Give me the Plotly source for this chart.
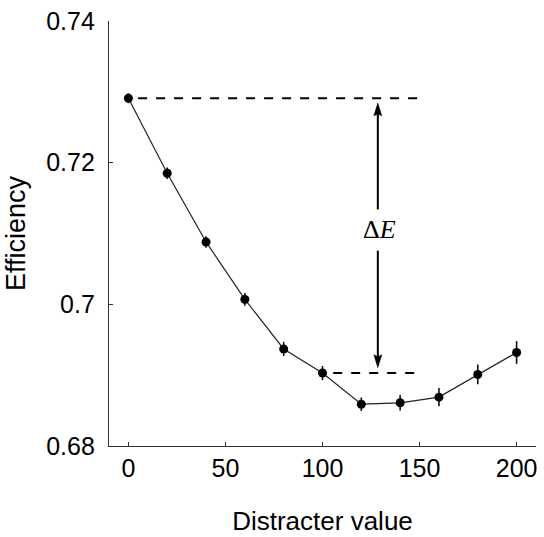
import plotly.graph_objects as go

# ---- data ----
distracter = [0, 20, 40, 60, 80, 100, 120, 140, 160, 180, 200]
efficiency = [0.7291, 0.7185, 0.7088, 0.7007, 0.6937, 0.6903,
              0.6859, 0.6861, 0.6869, 0.6901, 0.6932]
err = [0.0007, 0.0008, 0.0008, 0.0009, 0.0010, 0.0010,
       0.00095, 0.0011, 0.0013, 0.0014, 0.0016]
x_ticks = [0, 50, 100, 150, 200]
y_ticks = [0.68, 0.70, 0.72, 0.74]
y_tick_labels = ["0.68", "0.7", "0.72", "0.74"]

# annotation positions (data units)
top_span = [5, 151]
bottom_span = [105.5, 148.5]
arrow_x = 128.5
arrow_top_tip, arrow_top_tail = 0.72842, 0.7134
arrow_bot_tip, arrow_bot_tail = 0.69106, 0.70758
label_y = 0.7105

W, H = 544, 537
M = dict(l=109, r=7, t=18, b=89)
x_range = [-10, 210]
y_range = [0.68, 0.74]
px_x = (W - M["l"] - M["r"]) / (x_range[1] - x_range[0])
px_y = (H - M["t"] - M["b"]) / (y_range[1] - y_range[0])

fig = go.Figure()
fig.add_trace(go.Scatter(
    x=distracter, y=efficiency, mode="lines+markers",
    line=dict(color="#222222", width=1.2),
    marker=dict(color="black", size=9),
    error_y=dict(type="data", array=err, visible=True,
                 color="black", thickness=1.5, width=0),
    showlegend=False, hoverinfo="skip",
))

shapes = []
dash_line = dict(color="black", width=2, dash="9px,9px")
shapes.append(dict(type="line", xref="x", yref="y",
                   x0=top_span[0], x1=top_span[1],
                   y0=efficiency[0], y1=efficiency[0], line=dash_line))
shapes.append(dict(type="line", xref="x", yref="y",
                   x0=bottom_span[0], x1=bottom_span[1],
                   y0=efficiency[5], y1=efficiency[5], line=dash_line))

head_len = 13 / px_y
head_half = 4 / px_x
notch = 2 / px_y


def arrow(tip, tail):
    d = 1 if tip > tail else -1
    base = tip - d * head_len
    shapes.append(dict(type="line", xref="x", yref="y",
                       x0=arrow_x, x1=arrow_x, y0=tail, y1=base + d * notch,
                       line=dict(color="black", width=2)))
    path = (f"M{arrow_x},{tip} L{arrow_x - head_half},{base} "
            f"L{arrow_x},{base + d * notch} L{arrow_x + head_half},{base} Z")
    shapes.append(dict(type="path", xref="x", yref="y", path=path,
                       fillcolor="black", line=dict(color="black", width=0.5)))


arrow(arrow_top_tip, arrow_top_tail)
arrow(arrow_bot_tip, arrow_bot_tail)

fig.add_annotation(x=arrow_x + 0.9, y=label_y, xref="x", yref="y",
                   text="Δ<i>E</i>", showarrow=False,
                   font=dict(family="Liberation Serif", size=26, color="black"),
                   xanchor="center", yanchor="middle")

axis_common = dict(
    showline=True, linecolor="#333333", linewidth=1.2, mirror=False,
    ticks="inside", ticklen=4, tickwidth=1, tickcolor="#333333",
    showgrid=False, zeroline=False,
    tickfont=dict(family="Liberation Sans", size=25, color="black"),
)

fig.update_layout(
    width=W, height=H, margin=M,
    paper_bgcolor="white", plot_bgcolor="white",
    shapes=shapes,
    xaxis=dict(range=x_range, tickvals=x_ticks, **axis_common,
               title=dict(text="Distracter value", standoff=30,
                          font=dict(family="Liberation Sans", size=26, color="black"))),
    yaxis=dict(range=y_range, tickvals=y_ticks, ticktext=y_tick_labels,
               ticklabelstandoff=8, **axis_common,
               title=dict(text="Efficiency", standoff=12,
                          font=dict(family="Liberation Sans", size=27, color="black"))),
)

fig.write_html("out.html",
               config={"displayModeBar": False, "staticPlot": True},
               post_script="document.body.style.margin='0';"
                           "document.body.style.overflow='hidden';")
